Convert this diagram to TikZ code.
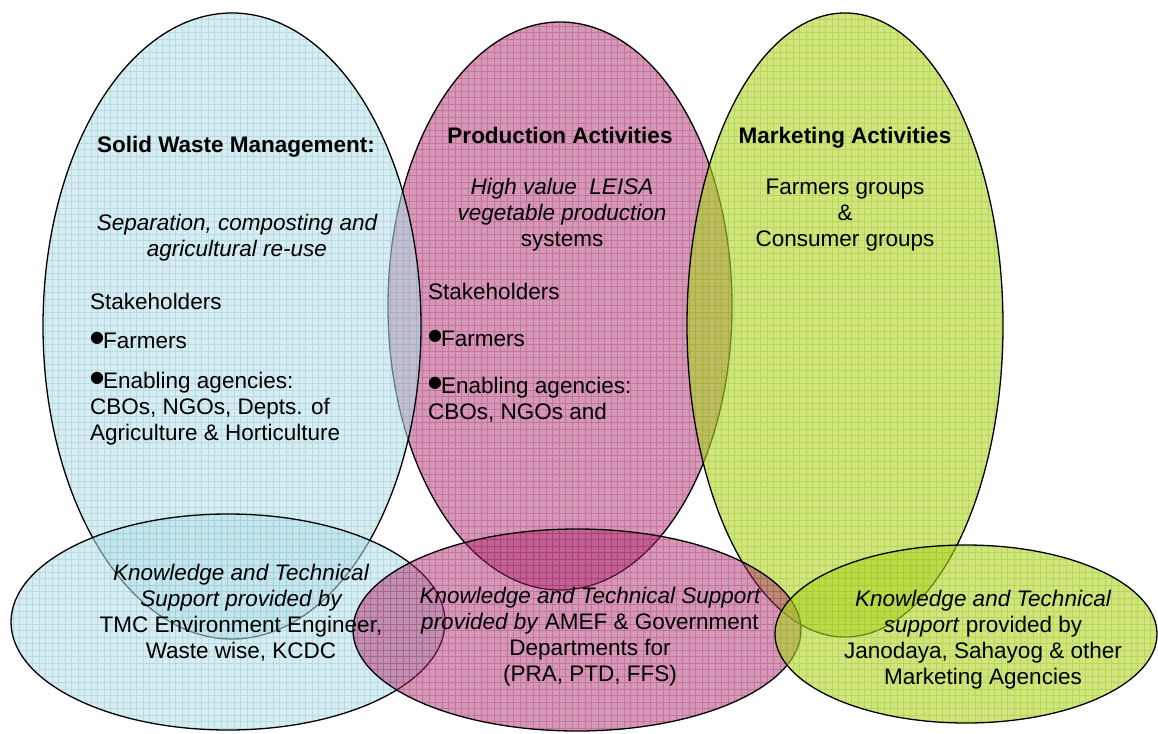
\documentclass[tikz,border=0pt]{standalone}
\usepackage{fontspec}
\setmainfont{Liberation Sans}
\newfontfamily\symfont{DejaVu Sans}
\definecolor{cyanfill}{RGB}{183,222,232}
\definecolor{cyanline}{RGB}{120,190,200}
\definecolor{pinkfill}{RGB}{170,40,105}
\definecolor{pinkline}{RGB}{150,30,95}
\definecolor{greenfill}{RGB}{175,212,40}
\definecolor{greenline}{RGB}{140,190,20}
% raised round bullet in front of list items
\newcommand\blt{\makebox[13pt][l]{\raisebox{6pt}{\symfont\fontsize{16}{16}\selectfont ●}}}
% textured ellipse: centre x, centre y, x radius, y radius, fill style, grid style
\newcommand\patell[6]{%
  \fill[#5] (#1,#2) ellipse [x radius=#3, y radius=#4];
  \begin{scope}
    \clip (#1,#2) ellipse [x radius=#3, y radius=#4];
    \draw[#6] (#1-#3,#2-#4) grid[step=6.5pt] (#1+#3,#2+#4);
  \end{scope}
  \draw[outline] (#1,#2) ellipse [x radius=#3, y radius=#4];
}
\begin{document}
\begin{tikzpicture}[x=1pt,y=-1pt,
  outline/.style={draw=black, line width=1.3pt},
  cyanf/.style={fill=cyanfill, fill opacity=0.55},
  cyang/.style={draw=cyanline, line width=0.6pt, draw opacity=0.35},
  pinkf/.style={fill=pinkfill, fill opacity=0.48},
  pinkg/.style={draw=pinkline, line width=0.6pt, draw opacity=0.3},
  greenf/.style={fill=greenfill, fill opacity=0.6},
  greeng/.style={draw=greenline, line width=0.6pt, draw opacity=0.35},
  txt/.style={font=\fontsize{22.5}{26}\selectfont, inner sep=0pt, text=black},
  ctr/.style={txt, align=center, anchor=base},
  lft/.style={txt, align=left, anchor=base west},
  ttl/.style={txt, font=\fontsize{22.5}{26}\selectfont\bfseries, anchor=base}
]
\useasboundingbox (0,0) rectangle (1158,733);

% the three activity areas
\patell{560}{306}{172}{284}{pinkf}{pinkg}
\patell{845}{325}{158}{312}{greenf}{greeng}
\patell{232}{326}{189}{313}{cyanf}{cyang}

% the three support areas
\patell{228}{622}{217}{108}{cyanf}{cyang}
\patell{577}{630}{224}{101}{pinkf}{pinkg}
\patell{966}{634}{191}{89}{greenf}{greeng}

% solid waste management (multi-line nodes sit on their last baseline)
\node[ttl] (swmT) at (236,152) {Solid Waste Management:};
\node[ctr] (swmS) at (237,256) {\itshape Separation, composting and\\\itshape agricultural re-use};
\node[lft] (swmK) at (90,309) {Stakeholders};
\node[lft] (swmF) at (90,348) {\blt Farmers};
\node[lft] (swmE) at (90,440) {\blt Enabling agencies:\\CBOs, NGOs, Depts. of\\Agriculture \& Horticulture};

% production activities
\node[ttl] (prdT) at (560,143) {Production Activities};
\node[ctr] (prdS) at (562,246) {\itshape High value~ LEISA\\\itshape vegetable production\\systems};
\node[lft] (prdK) at (428,299) {Stakeholders};
\node[lft] (prdF) at (428,346) {\blt Farmers};
\node[lft] (prdE) at (428,419) {\blt Enabling agencies:\\CBOs, NGOs and};

% marketing activities
\node[ttl] (mktT) at (845,143) {Marketing Activities};
\node[ctr] (mktS) at (845,246) {Farmers groups\\\&\\Consumer groups};

% support providers
\node[ctr] (supA) at (241,658) {\itshape Knowledge and Technical\\\itshape Support provided by\\TMC Environment Engineer,\\Waste wise, KCDC};
\node[ctr] (supB) at (590,681) {\itshape Knowledge and Technical Support\\\textit{provided by} AMEF \& Government\\Departments for\\(PRA, PTD, FFS)};
\node[ctr] (supC) at (983,684) {\itshape Knowledge and Technical\\\textit{support} provided by\\Janodaya, Sahayog \& other\\Marketing Agencies};
\end{tikzpicture}
\end{document}
